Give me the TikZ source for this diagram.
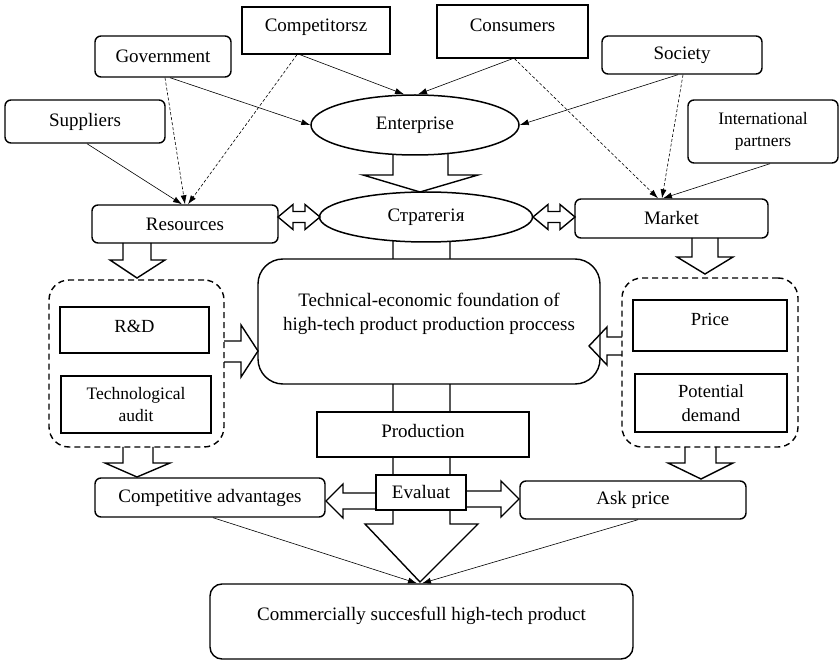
\documentclass[tikz,border=0pt]{standalone}
\usepackage{fontspec}
\setmainfont{Liberation Serif}
\usetikzlibrary{arrows.meta,shapes.geometric}
\begin{document}
\begin{tikzpicture}[x=1pt,y=-1pt,
 every node/.style={font=\rmfamily\fontsize{19}{24}\selectfont, inner sep=0pt, align=center},
 sbox/.style={draw, line width=1.4pt, fill=white},
 rbox/.style={sbox, rounded corners=6pt},
 ell/.style={ellipse, draw, line width=1.5pt, fill=white},
 grp/.style={draw, line width=1.4pt, dash pattern=on 6pt off 4pt, rounded corners=20pt},
 conn/.style={line width=0.6pt, -{Latex[length=9pt,width=6pt]}},
 dconn/.style={conn, dash pattern=on 3pt off 2pt},
 blk/.style={line width=1.4pt, line join=miter},
 small/.style={font=\rmfamily\fontsize{17.5}{22}\selectfont},
 mid/.style={font=\rmfamily\fontsize{18.5}{24}\selectfont}]
\useasboundingbox (0,0) rectangle (839,660);

% big block arrows underneath
\draw[blk, fill=white] (393,150) -- (393,175) -- (363,175) -- (420,192) -- (478,175) -- (448,175) -- (448,150);
\draw[blk, fill=white] (393,235) -- (393,524) -- (365,524) -- (420,582) -- (478,524) -- (450,524) -- (450,235);

% top row
\node[sbox, minimum width=148pt, minimum height=47pt] (comp) at (316,30.5) {};
\node (compt) at (316,27) {Competitorsz};
\node[sbox, minimum width=151pt, minimum height=53pt] (cons) at (512.5,31.5) {};
\node (const) at (512.5,25) {Consumers};
\node[rbox, minimum width=136pt, minimum height=41pt] (gov) at (163,56.5) {Government};
\node[rbox, minimum width=160pt, minimum height=43pt] (sup) at (85,121.5) {Suppliers};
\node[rbox, minimum width=160pt, minimum height=38pt] (soc) at (682,55) {Society};
\node[rbox, small, minimum width=150pt, minimum height=63pt] (intl) at (763,131.5) {International\\partners};

% ellipses
\node[ell, minimum width=208pt, minimum height=60pt] (ent) at (415,125) {Enterprise};
\node[ell, minimum width=213pt, minimum height=50pt] (strat) at (426,217) {Стратегія};

% second row
\node[rbox, minimum width=186pt, minimum height=38pt] (res) at (185,224) {Resources};
\node[rbox, minimum width=193pt, minimum height=39pt] (mkt) at (671.5,218.5) {Market};

% groups
\node[grp, minimum width=175pt, minimum height=167pt] (lgrp) at (136.5,363.5) {};
\node[sbox, minimum width=149pt, minimum height=46pt] (rd) at (134.5,330) {};
\node[mid] (rdt) at (134.5,326) {R\&D};
\node[sbox, small, minimum width=150pt, minimum height=57pt] (ta) at (136,404.5) {Technological\\audit};

\node[grp, minimum width=176pt, minimum height=169pt] (rgrp) at (710,362.5) {};
\node[sbox, minimum width=154pt, minimum height=51pt] (price) at (710,325.5) {};
\node[mid] (pricet) at (710,319) {Price};
\node[sbox, mid, minimum width=152pt, minimum height=58pt] (pd) at (711,403) {Potential\\demand};

% centre
\node[sbox, rounded corners=25pt, minimum width=342pt, minimum height=125pt] (tech) at (429,321.5) {};
\node (techt) at (429,314) {Technical-economic foundation of\\high-tech product production proccess};
\node[sbox, minimum width=212pt, minimum height=45pt] (prod) at (423,434.5) {};
\node (prodt) at (423,431) {Production};
\node[sbox, minimum width=90pt, minimum height=35pt] (eval) at (421,492.5) {Evaluat};

\node[rbox, minimum width=230pt, minimum height=39pt] (ca) at (210,497.5) {Competitive advantages};
\node[rbox, minimum width=226pt, minimum height=38pt] (ask) at (633,500) {Ask price};
\node[sbox, rounded corners=12pt, minimum width=423pt, minimum height=75pt] (cps) at (421.5,621.5) {};
\node (cpst) at (421.5,616) {Commercially succesfull high-tech product};

% down block arrows
\draw[blk] (123,243) -- (123,260) -- (110,260) -- (137,278) -- (165,260) -- (151,260) -- (151,243);
\draw[blk] (692,238) -- (692,257) -- (677,257) -- (705,274) -- (733,257) -- (718,257) -- (718,238);
\draw[blk] (123,447) -- (123,463) -- (105,463) -- (137,477) -- (170,463) -- (153,463) -- (153,447);
\draw[blk] (685,447) -- (685,463) -- (668,463) -- (701,479) -- (733,463) -- (716,463) -- (716,447);

% side block arrows
\draw[blk] (224,341) -- (241,341) -- (241,325) -- (258,351) -- (241,377) -- (241,362) -- (224,362);
\draw[blk] (622,337) -- (607,337) -- (607,327) -- (589,346) -- (607,365) -- (607,355) -- (622,355);
\draw[blk] (376,493) -- (343,493) -- (343,484) -- (326,501) -- (343,518) -- (343,509) -- (376,509);
\draw[blk] (466,491) -- (501,491) -- (501,481) -- (519,499) -- (501,517) -- (501,507) -- (466,507);

% double arrows
\draw[blk] (278,217) -- (293,204.5) -- (293,211.5) -- (305,211.5) -- (305,204.5) -- (320,217) -- (305,229.5) -- (305,222.5) -- (293,222.5) -- (293,229.5) -- cycle;
\draw[blk] (533,217) -- (548,204.5) -- (548,211.5) -- (560,211.5) -- (560,204.5) -- (575,217) -- (560,229.5) -- (560,222.5) -- (548,222.5) -- (548,229.5) -- cycle;

% thin connectors
\draw[conn] ([xshift=2pt]sup.south) -- ([xshift=-3pt]res.north);
\draw[dconn] ([xshift=2pt]gov.south) -- (res.north);
\draw[conn] ([xshift=7pt]gov.south) -- (ent.west);
\draw[dconn] ([xshift=-19pt]comp.south) -- ([xshift=3pt]res.north);
\draw[conn] ([xshift=-16pt]comp.south) -- ([xshift=-11pt]ent.north);
\draw[conn] (cons.south) -- ([xshift=3pt]ent.north);
\draw[dconn] ([xshift=2pt]cons.south) -- ([xshift=-13.5pt]mkt.north);
\draw[conn] ([xshift=-4pt]soc.south) -- (ent.east);
\draw[dconn] ([xshift=1pt]soc.south) -- ([xshift=-9.5pt]mkt.north);
\draw[conn] ([xshift=7pt]intl.south) -- ([xshift=-8.5pt]mkt.north);
\draw[conn] ([xshift=3pt]ca.south) -- ([xshift=-4.5pt]cps.north);
\draw[conn] ([xshift=5pt]ask.south) -- ([xshift=0.5pt]cps.north);
\end{tikzpicture}
\end{document}
